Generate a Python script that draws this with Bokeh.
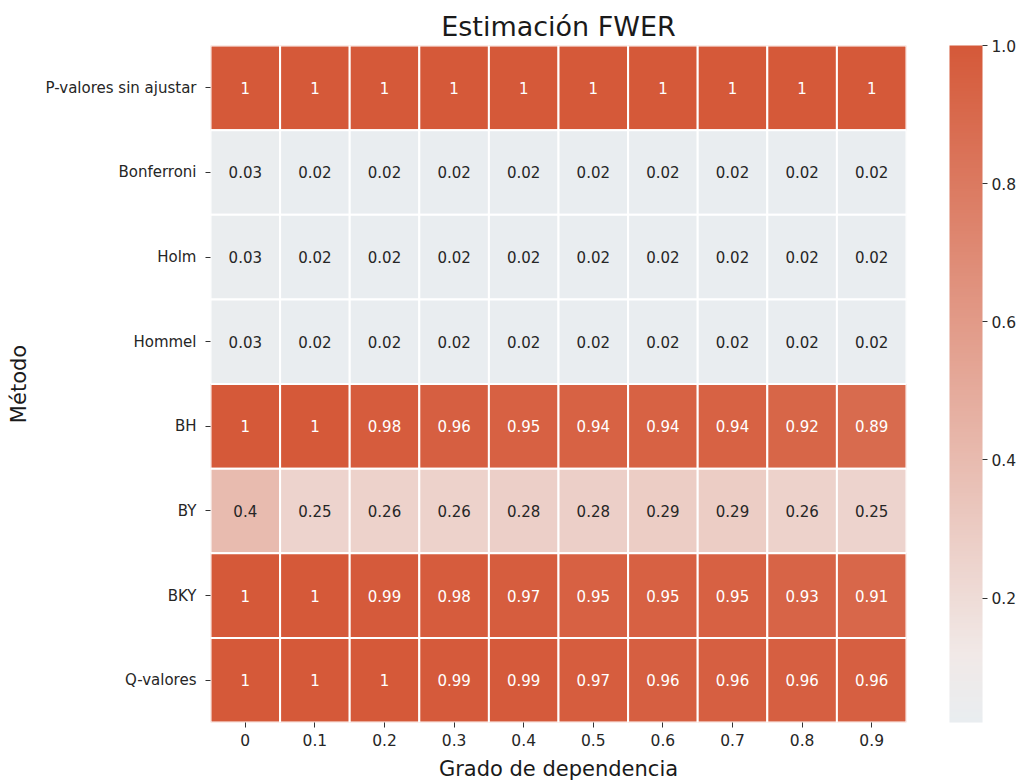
import numpy as np
from bokeh.plotting import figure
from bokeh.models import ColumnDataSource, LinearColorMapper, ColorBar, FixedTicker, FactorRange, PrintfTickFormatter
from bokeh.core.properties import value
from bokeh.embed import file_html
from bokeh.resources import INLINE

methods = ["P-valores sin ajustar", "Bonferroni", "Holm", "Hommel", "BH", "BY", "BKY", "Q-valores"]
deps = ["0", "0.1", "0.2", "0.3", "0.4", "0.5", "0.6", "0.7", "0.8", "0.9"]

p_sin = [1, 1, 1, 1, 1, 1, 1, 1, 1, 1]
bonferroni = [0.03, 0.02, 0.02, 0.02, 0.02, 0.02, 0.02, 0.02, 0.02, 0.02]
holm = [0.03, 0.02, 0.02, 0.02, 0.02, 0.02, 0.02, 0.02, 0.02, 0.02]
hommel = [0.03, 0.02, 0.02, 0.02, 0.02, 0.02, 0.02, 0.02, 0.02, 0.02]
bh = [1, 1, 0.98, 0.96, 0.95, 0.94, 0.94, 0.94, 0.92, 0.89]
by = [0.4, 0.25, 0.26, 0.26, 0.28, 0.28, 0.29, 0.29, 0.26, 0.25]
bky = [1, 1, 0.99, 0.98, 0.97, 0.95, 0.95, 0.95, 0.93, 0.91]
qval = [1, 1, 1, 0.99, 0.99, 0.97, 0.96, 0.96, 0.96, 0.96]

rows = [p_sin, bonferroni, holm, hommel, bh, by, bky, qval]
cbar_ticks = [0.2, 0.4, 0.6, 0.8, 1.0]

VMIN, VMAX = 0.02, 1.0

# colour palette (light blue-grey -> light warm -> orange-red)
stops = [(0.0, (233, 237, 240)), (0.10, (241, 233, 231)), (1.0, (213, 89, 57))]
pal = []
for i in range(256):
    t = i / 255
    for (t0, c0), (t1, c1) in zip(stops[:-1], stops[1:]):
        if t0 <= t <= t1:
            f = (t - t0) / (t1 - t0)
            c = [int(round(a + (b - a) * f)) for a, b in zip(c0, c1)]
            pal.append("#%02x%02x%02x" % tuple(c))
            break

xs, ys, vals, labels, tcol = [], [], [], [], []
for m, r in zip(methods, rows):
    for d, v in zip(deps, r):
        xs.append(d)
        ys.append(m)
        vals.append(v)
        labels.append("{:g}".format(round(v, 2)))
        tcol.append("#ffffff" if v > 0.6 else "#262626")

src = ColumnDataSource(dict(x=xs, y=ys, v=vals, label=labels, tc=tcol))
mapper = LinearColorMapper(palette=pal, low=VMIN, high=VMAX)

p = figure(x_range=FactorRange(*deps), y_range=FactorRange(*reversed(methods)),
           frame_width=696, frame_height=677, output_backend="svg", toolbar_location=None,
           min_border_left=210, min_border_top=45, min_border_bottom=50, min_border_right=0,
           title="Estimación FWER")
p.rect(x="x", y="y", width=1, height=1, source=src,
       fill_color={"field": "v", "transform": mapper}, line_color="white", line_width=2)
p.text(x="x", y="y", text="label", source=src, text_color="tc",
       text_align="center", text_baseline="middle", text_font_size="15px",
       text_font=value("DejaVu Sans"))

p.outline_line_color = None
p.grid.grid_line_color = None
p.title.align = "center"
p.title.text_font = "DejaVu Sans"
p.title.text_font_style = "normal"
p.title.text_font_size = "27px"
p.title.text_color = "#1a1a1a"
p.title.standoff = 7

for ax in (p.xaxis[0], p.yaxis[0]):
    ax.axis_line_color = None
    ax.major_tick_in = 0
    ax.major_tick_out = 5
    ax.major_tick_line_color = "#333333"
    ax.major_label_text_font = "DejaVu Sans"
    ax.major_label_text_font_size = "15.5px"
    ax.major_label_text_color = "#262626"
    ax.axis_label_text_font = "DejaVu Sans"
    ax.axis_label_text_font_style = "normal"
    ax.axis_label_text_font_size = "21px"
    ax.axis_label_text_color = "#1a1a1a"
    ax.major_label_standoff = 6

p.yaxis.major_label_text_font_size = "15px"
p.yaxis.major_label_standoff = 9
p.xaxis.axis_label = "Grado de dependencia"
p.yaxis.axis_label = "Método"
p.xaxis.axis_label_standoff = 8
p.yaxis.axis_label_standoff = 12

cb = ColorBar(color_mapper=mapper, width=33, height=677, padding=0, margin=43,
              ticker=FixedTicker(ticks=cbar_ticks), formatter=PrintfTickFormatter(format="%.1f"),
              major_tick_in=0, major_tick_out=5,
              major_tick_line_color="#333333", label_standoff=4,
              major_label_text_font="DejaVu Sans", major_label_text_font_size="15.5px",
              major_label_text_color="#262626", bar_line_color=None,
              background_fill_color=None, border_line_color=None, location=(43, 0))
p.add_layout(cb, "right")

open("out.html", "w").write(file_html(p, INLINE))
